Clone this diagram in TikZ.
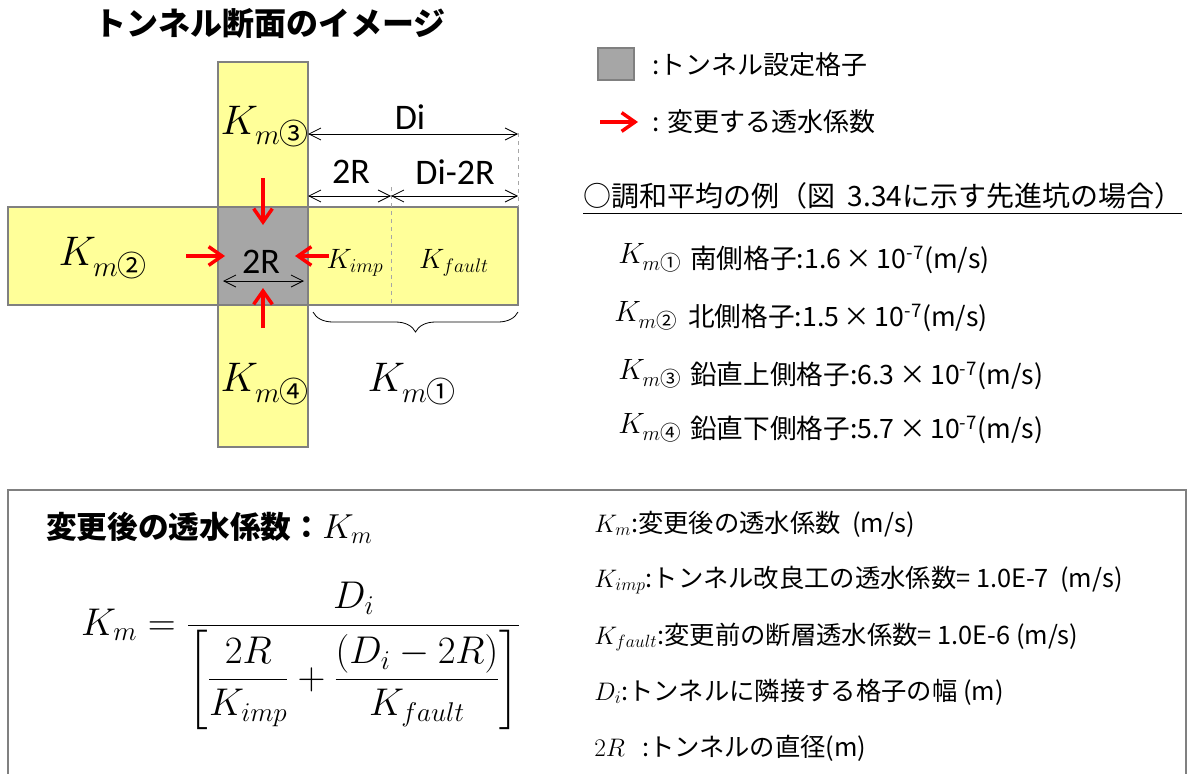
\RequirePackage{fix-cm}
\documentclass[tikz,border=0pt]{standalone}
\usepackage{amsmath}
\usepackage[no-math]{fontspec}
\setmainfont{Noto Sans CJK JP}
\newfontfamily\latinfont{Carlito}
\usetikzlibrary{arrows.meta, decorations.pathreplacing, calc}
\definecolor{cellyellow}{RGB}{255,255,153}
\definecolor{tunnelgray}{RGB}{166,166,166}
\definecolor{edgegray}{RGB}{128,128,128}
\tikzset{
    cellbox/.style={draw=edgegray, line width=1.5pt, fill=cellyellow},
    tunnelbox/.style={draw=edgegray, line width=1.5pt, fill=tunnelgray},
    guide/.style={dashed, draw=black!35, line width=0.7pt},
    dimarrow/.style={{Straight Barb[length=9pt,width=9pt]}-{Straight Barb[length=9pt,width=9pt]}, line width=0.6pt},
    chgarrow/.style={-{Straight Barb[length=10pt,width=14pt]}, red, line width=2.6pt},
    dimlbl/.style={font=\latinfont\fontsize{27}{30}\selectfont, inner sep=1pt},
    kbig/.style={font=\fontsize{31}{34}\selectfont, inner sep=0pt},
    ksmall/.style={font=\fontsize{21}{24}\selectfont, inner sep=0pt},
    krow/.style={font=\fontsize{22}{26}\selectfont, anchor=west, inner sep=0pt},
    legtxt/.style={font=\fontsize{19.5}{22}\selectfont, anchor=west, inner sep=0pt},
    rowtxt/.style={font=\fontsize{20}{24}\selectfont, anchor=west, inner sep=0pt},
    deftxt/.style={font=\fontsize{19}{22}\selectfont, anchor=west, inner sep=0pt},
}

\begin{document}
\begin{tikzpicture}[x=0.75pt, y=-0.75pt]
    \useasboundingbox (0,0) rectangle (1192,774);
    \node[font=\bfseries\fontsize{24}{28}\selectfont] (title) at (270,24) {トンネル断面のイメージ};

    \draw[cellbox]   (8,207) rectangle (518,305);
    \draw[cellbox]   (218,62) rectangle (308,447);
    \draw[tunnelbox] (218,207) rectangle (308,305);
    \coordinate (divT) at (391,187);
    \coordinate (divB) at (391,305);
    \coordinate (edgeT) at (518,133);
    \coordinate (edgeB) at (518,207);
    \draw[guide] (divT) -- (divB);
    \draw[guide] (edgeT) -- (edgeB);

    \coordinate (diL)  at (308,134);
    \coordinate (diR)  at (518,134);
    \coordinate (lowL) at (308,196);
    \coordinate (lowM) at (391,196);
    \coordinate (lowR) at (518,196);
    \coordinate (inL)  at (223,281);
    \coordinate (inR)  at (304,281);
    \draw[dimarrow] (diL) -- (diR);
    \draw[dimarrow] (lowL) -- (lowM);
    \draw[dimarrow] (lowM) -- (lowR);
    \draw[dimarrow] (inL) -- (inR);
    \node[dimlbl] (lblDi)   at (410,117) {Di};
    \node[dimlbl] (lblR)    at (351,172) {2R};
    \node[dimlbl] (lblDiR)  at (455,172) {Di-2R};
    \node[dimlbl] (lblTun)  at (261,262) {2R};

    \node[kbig]   (km2)   at (103,258) {$K_{m\text{②}}$};
    \node[kbig]   (km3)   at (265,127) {$K_{m\text{③}}$};
    \node[kbig]   (km4)   at (265,384) {$K_{m\text{④}}$};
    \node[kbig]   (km1)   at (412,384) {$K_{m\text{①}}$};
    \node[ksmall] (kimp)  at (355,263) {$K_{imp}$};
    \node[ksmall] (kfault) at (454,263) {$K_{fault}$};
    \draw[decorate, decoration={brace, mirror, amplitude=15pt}, line width=0.6pt]
        (313,312) -- (518,312);

    \coordinate (upS)  at (263,178);
    \coordinate (upE)  at (263,225);
    \coordinate (lfS)  at (186,256);
    \coordinate (lfE)  at (225,256);
    \coordinate (rtS)  at (329,256);
    \coordinate (rtE)  at (295,256);
    \coordinate (dnS)  at (263,328);
    \coordinate (dnE)  at (263,288);
    \draw[chgarrow] (upS) -- (upE);
    \draw[chgarrow] (lfS) -- (lfE);
    \draw[chgarrow] (rtS) -- (rtE);
    \draw[chgarrow] (dnS) -- (dnE);

    \draw[tunnelbox] (598,48) rectangle (634,80);
    \node[legtxt] (legTun) at (652,65) {:トンネル設定格子};
    \coordinate (legS) at (600,122);
    \coordinate (legE) at (638,122);
    \draw[chgarrow] (legS) -- (legE);
    \node[legtxt] (legChg) at (652,122) {: 変更する透水係数};

    \node[font=\fontsize{21}{24}\selectfont, anchor=west, inner sep=0pt] (hdr) at (583,196) {○調和平均の例（図\ \ 3.34に示す先進坑の場合）};
    \draw[line width=1.2pt] ($(hdr.south west)+(0,4)$) -- ($(hdr.south east)+(0,4)$);

    \node[krow]   (row1k) at (618,258) {$K_{m\text{①}}$};
    \node[rowtxt] (row1)  at (690,260) {南側格子:1.6\,×\,10\textsuperscript{-7}(m/s)};
    \node[krow]   (row2k) at (614,316) {$K_{m\text{②}}$};
    \node[rowtxt] (row2)  at (688,318) {北側格子:1.5\,×\,10\textsuperscript{-7}(m/s)};
    \node[krow]   (row3k) at (618,374) {$K_{m\text{③}}$};
    \node[rowtxt] (row3)  at (690,376) {鉛直上側格子:6.3\,×\,10\textsuperscript{-7}(m/s)};
    \node[krow]   (row4k) at (618,428) {$K_{m\text{④}}$};
    \node[rowtxt] (row4)  at (690,430) {鉛直下側格子:5.7\,×\,10\textsuperscript{-7}(m/s)};

    \draw[draw=edgegray, line width=1.5pt] (8,800) -- (8,490) -- (1186,490) -- (1186,800);
    \node[font=\fontsize{23}{26}\selectfont, anchor=west, inner sep=0pt] (kmhdr) at (46,528) {\textbf{変更後の透水係数：}{\fontsize{26}{30}\selectfont$K_m$}};
    \node[font=\fontsize{29}{34}\selectfont, inner sep=0pt] (formula) at (301,656)
        {$\displaystyle K_m=\frac{D_i}{\left[\dfrac{2R}{K_{imp}}+\dfrac{(D_i-2R)}{K_{fault}}\right]}$};

    \node[deftxt] (defKm)    at (594,524) {$K_m$:変更後の透水係数\ \ (m/s)};
    \node[deftxt] (defKimp)  at (594,580) {$K_{imp}$:トンネル改良工の透水係数= 1.0E-7\ \ (m/s)};
    \node[deftxt] (defKfault) at (594,637) {$K_{fault}$:変更前の断層透水係数= 1.0E-6 (m/s)};
    \node[deftxt] (defDi)    at (594,692) {$D_i$:トンネルに隣接する格子の幅 (m)};
    \node[deftxt] (defR)     at (594,748) {$2R$\ \ \ :トンネルの直径(m)};
\end{tikzpicture}
\end{document}
